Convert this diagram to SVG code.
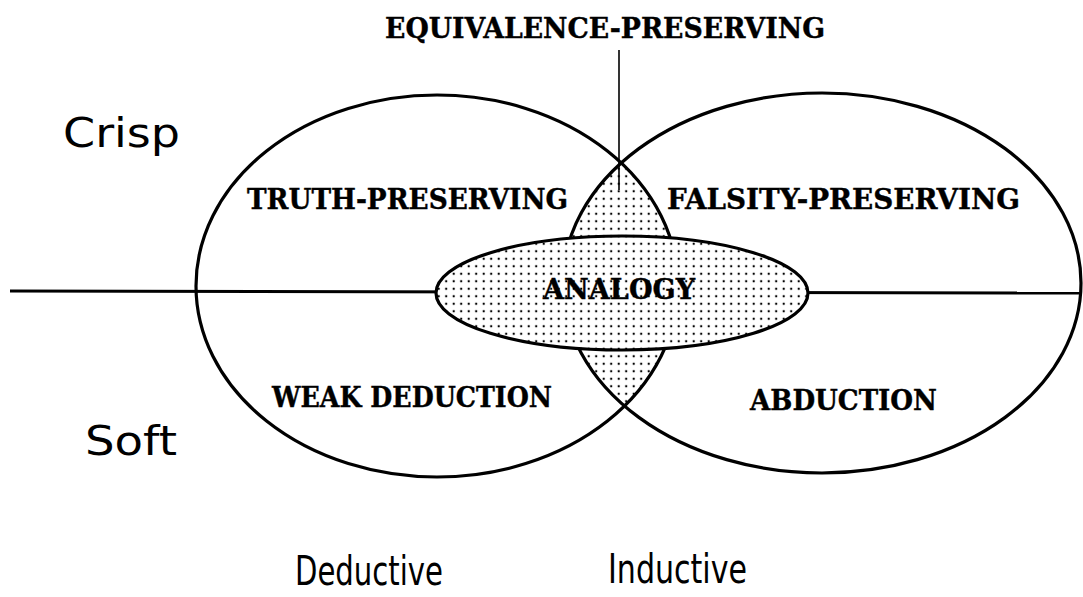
<svg xmlns="http://www.w3.org/2000/svg" width="1083" height="597" viewBox="0 0 1083 597">
  <style>
    .ring { fill: none; stroke: #000; stroke-width: 3.2; }
    .line { stroke: #000; stroke-width: 3; fill: none; }
    .thin { stroke: #000; stroke-width: 1.6; fill: none; }
    .slab { font-family: "DejaVu Serif", "Liberation Serif", serif; font-weight: bold; font-size: 27px; fill: #000; stroke: #000; stroke-width: 0.4; }
    .sans { font-family: "DejaVu Sans", "Liberation Sans", sans-serif; font-size: 40px; fill: #000; }
  </style>
  <defs>
    <pattern id="dots" width="7.5" height="7.5" patternUnits="userSpaceOnUse">
      <rect width="7.5" height="7.5" fill="#fff"/>
      <circle cx="3.7" cy="3.7" r="1.15" fill="#000"/>
    </pattern>
    <clipPath id="leftClip">
      <ellipse cx="437" cy="286" rx="241" ry="191"/>
    </clipPath>
  </defs>
  <rect width="1083" height="597" fill="#fff"/>

  <g id="overlap">
    <ellipse cx="822" cy="283" rx="259" ry="190" fill="url(#dots)" clip-path="url(#leftClip)"/>
  </g>

  <g id="connectors">
    <line class="line" x1="10" y1="291" x2="1081" y2="293"/>
    <line class="thin" x1="619" y1="50" x2="619" y2="190"/>
  </g>

  <g id="deductive-ellipse">
    <ellipse class="ring" cx="437" cy="286" rx="241" ry="191"/>
  </g>
  <g id="inductive-ellipse">
    <ellipse class="ring" cx="822" cy="283" rx="259" ry="190"/>
  </g>

  <g id="analogy">
    <ellipse cx="622" cy="293" rx="186" ry="57" fill="url(#dots)" stroke="#000" stroke-width="3.2"/>
    <text class="slab" x="543" y="299" textLength="152" lengthAdjust="spacingAndGlyphs">ANALOGY</text>
  </g>

  <g id="equivalence">
    <text class="slab" x="385" y="38" textLength="440" lengthAdjust="spacingAndGlyphs">EQUIVALENCE-PRESERVING</text>
  </g>
  <g id="truth">
    <text class="slab" x="247" y="209" textLength="321" lengthAdjust="spacingAndGlyphs">TRUTH-PRESERVING</text>
  </g>
  <g id="falsity">
    <text class="slab" x="667" y="209" textLength="353" lengthAdjust="spacingAndGlyphs">FALSITY-PRESERVING</text>
  </g>
  <g id="weak-deduction">
    <text class="slab" x="272" y="407" textLength="280" lengthAdjust="spacingAndGlyphs">WEAK DEDUCTION</text>
  </g>
  <g id="abduction">
    <text class="slab" x="750" y="410" textLength="187" lengthAdjust="spacingAndGlyphs">ABDUCTION</text>
  </g>

  <g id="axis-labels">
    <text class="sans" x="63" y="147" textLength="117" lengthAdjust="spacingAndGlyphs">Crisp</text>
    <text class="sans" x="85" y="455" textLength="92" lengthAdjust="spacingAndGlyphs">Soft</text>
    <text class="sans" x="295" y="585" textLength="148" lengthAdjust="spacingAndGlyphs">Deductive</text>
    <text class="sans" x="608" y="583" textLength="139" lengthAdjust="spacingAndGlyphs">Inductive</text>
  </g>
</svg>
